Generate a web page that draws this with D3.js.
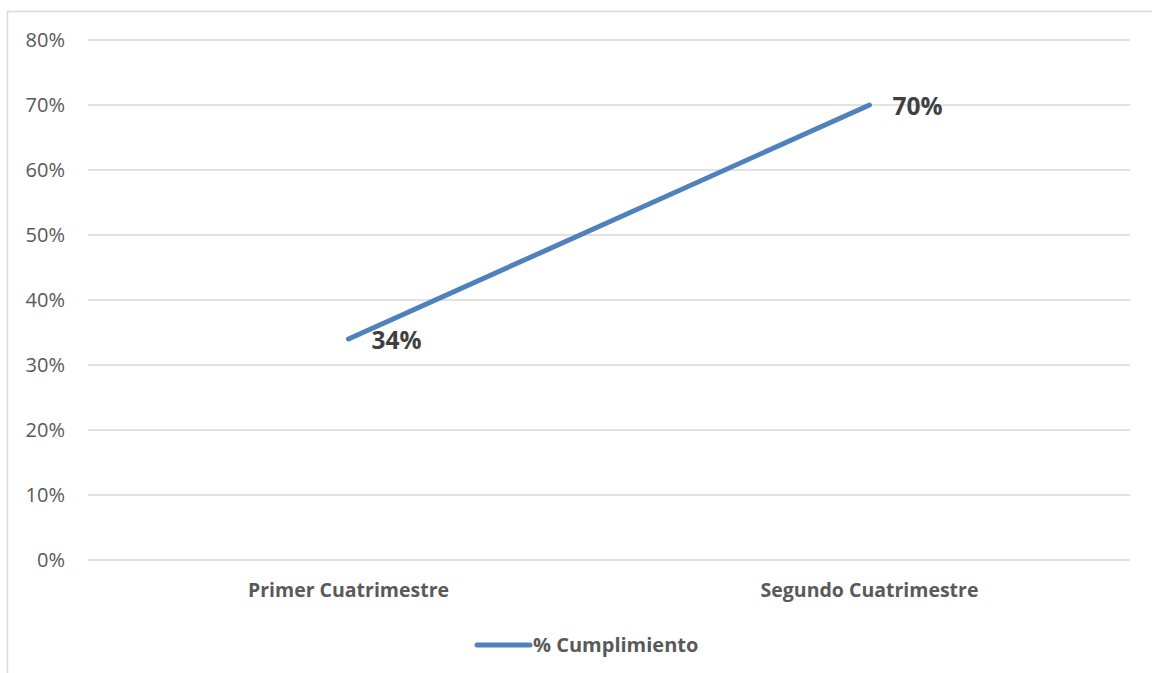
<!DOCTYPE html>
<html><head><meta charset="utf-8">
<script src="https://cdn.jsdelivr.net/npm/d3@7"></script>
<style>body{margin:0;background:#fff}svg{display:block}text{font-family:"Open Sans",sans-serif}</style>
</head><body><svg id="c" width="1152" height="673"></svg>
<script>
const categories = ["Primer Cuatrimestre", "Segundo Cuatrimestre"];
const values = [0.34, 0.70];
const seriesName = "% Cumplimiento";
const yTicks = [0, 0.1, 0.2, 0.3, 0.4, 0.5, 0.6, 0.7, 0.8];

const svg = d3.select("#c");
const W = 1152, H = 673;
const m = {left: 88, right: 22, top: 40, bottom: 113};
const x = d3.scaleBand().domain(categories).range([m.left, W - m.right]);
const y = d3.scaleLinear().domain([0, 0.8]).range([H - m.bottom, m.top]);
const FF = "'Open Sans',sans-serif";

svg.append("path").attr("d", `M7.5,${H}V11.5H${W}`).attr("fill","none").attr("stroke","#d9d9d9").attr("stroke-width",1.5);

svg.append("g").selectAll("line").data(yTicks).join("line")
  .attr("x1", m.left).attr("x2", W - m.right)
  .attr("y1", d => y(d)).attr("y2", d => y(d))
  .attr("stroke", "#d9d9d9").attr("stroke-width", 1.5);

const yAxis = d3.axisLeft(y).tickValues(yTicks).tickFormat(d3.format(".0%")).tickSize(0).tickPadding(23);
const ya = svg.append("g").attr("transform", `translate(${m.left},0)`).call(yAxis);
ya.select(".domain").remove();
ya.selectAll("text").attr("font-size", 20).attr("fill", "#595959").style("font-family", FF);

const xAxis = d3.axisBottom(x).tickSize(0).tickPadding(23);
const xa = svg.append("g").attr("transform", `translate(0,${y(0)})`).call(xAxis);
xa.select(".domain").remove();
xa.selectAll("text").attr("font-size", 19.5).attr("font-weight", "bold").attr("fill", "#595959").style("font-family", FF);

const color = "#4f81bd";
const data = categories.map((c, i) => ({c, v: values[i]}));
svg.append("path").datum(data)
  .attr("d", d3.line().x(d => x(d.c) + x.bandwidth()/2).y(d => y(d.v)))
  .attr("fill", "none").attr("stroke", color).attr("stroke-width", 5).attr("stroke-linecap", "round");

svg.append("g").selectAll("text").data(data).join("text")
  .attr("x", d => x(d.c) + x.bandwidth()/2 + 23)
  .attr("y", d => y(d.v) + 10)
  .attr("font-size", 24.5).attr("font-weight", "bold").attr("fill", "#404040").style("font-family", FF)
  .text(d => d3.format(".0%")(d.v));

const lg = svg.append("g").attr("transform", "translate(477,645)");
lg.append("line").attr("x1", 0).attr("x2", 53).attr("stroke", color).attr("stroke-width", 5).attr("stroke-linecap","round");
lg.append("text").attr("x", 56).attr("y", 7).attr("font-size", 20).attr("font-weight", "bold").attr("fill", "#595959").style("font-family", FF).text(seriesName);
</script></body></html>
